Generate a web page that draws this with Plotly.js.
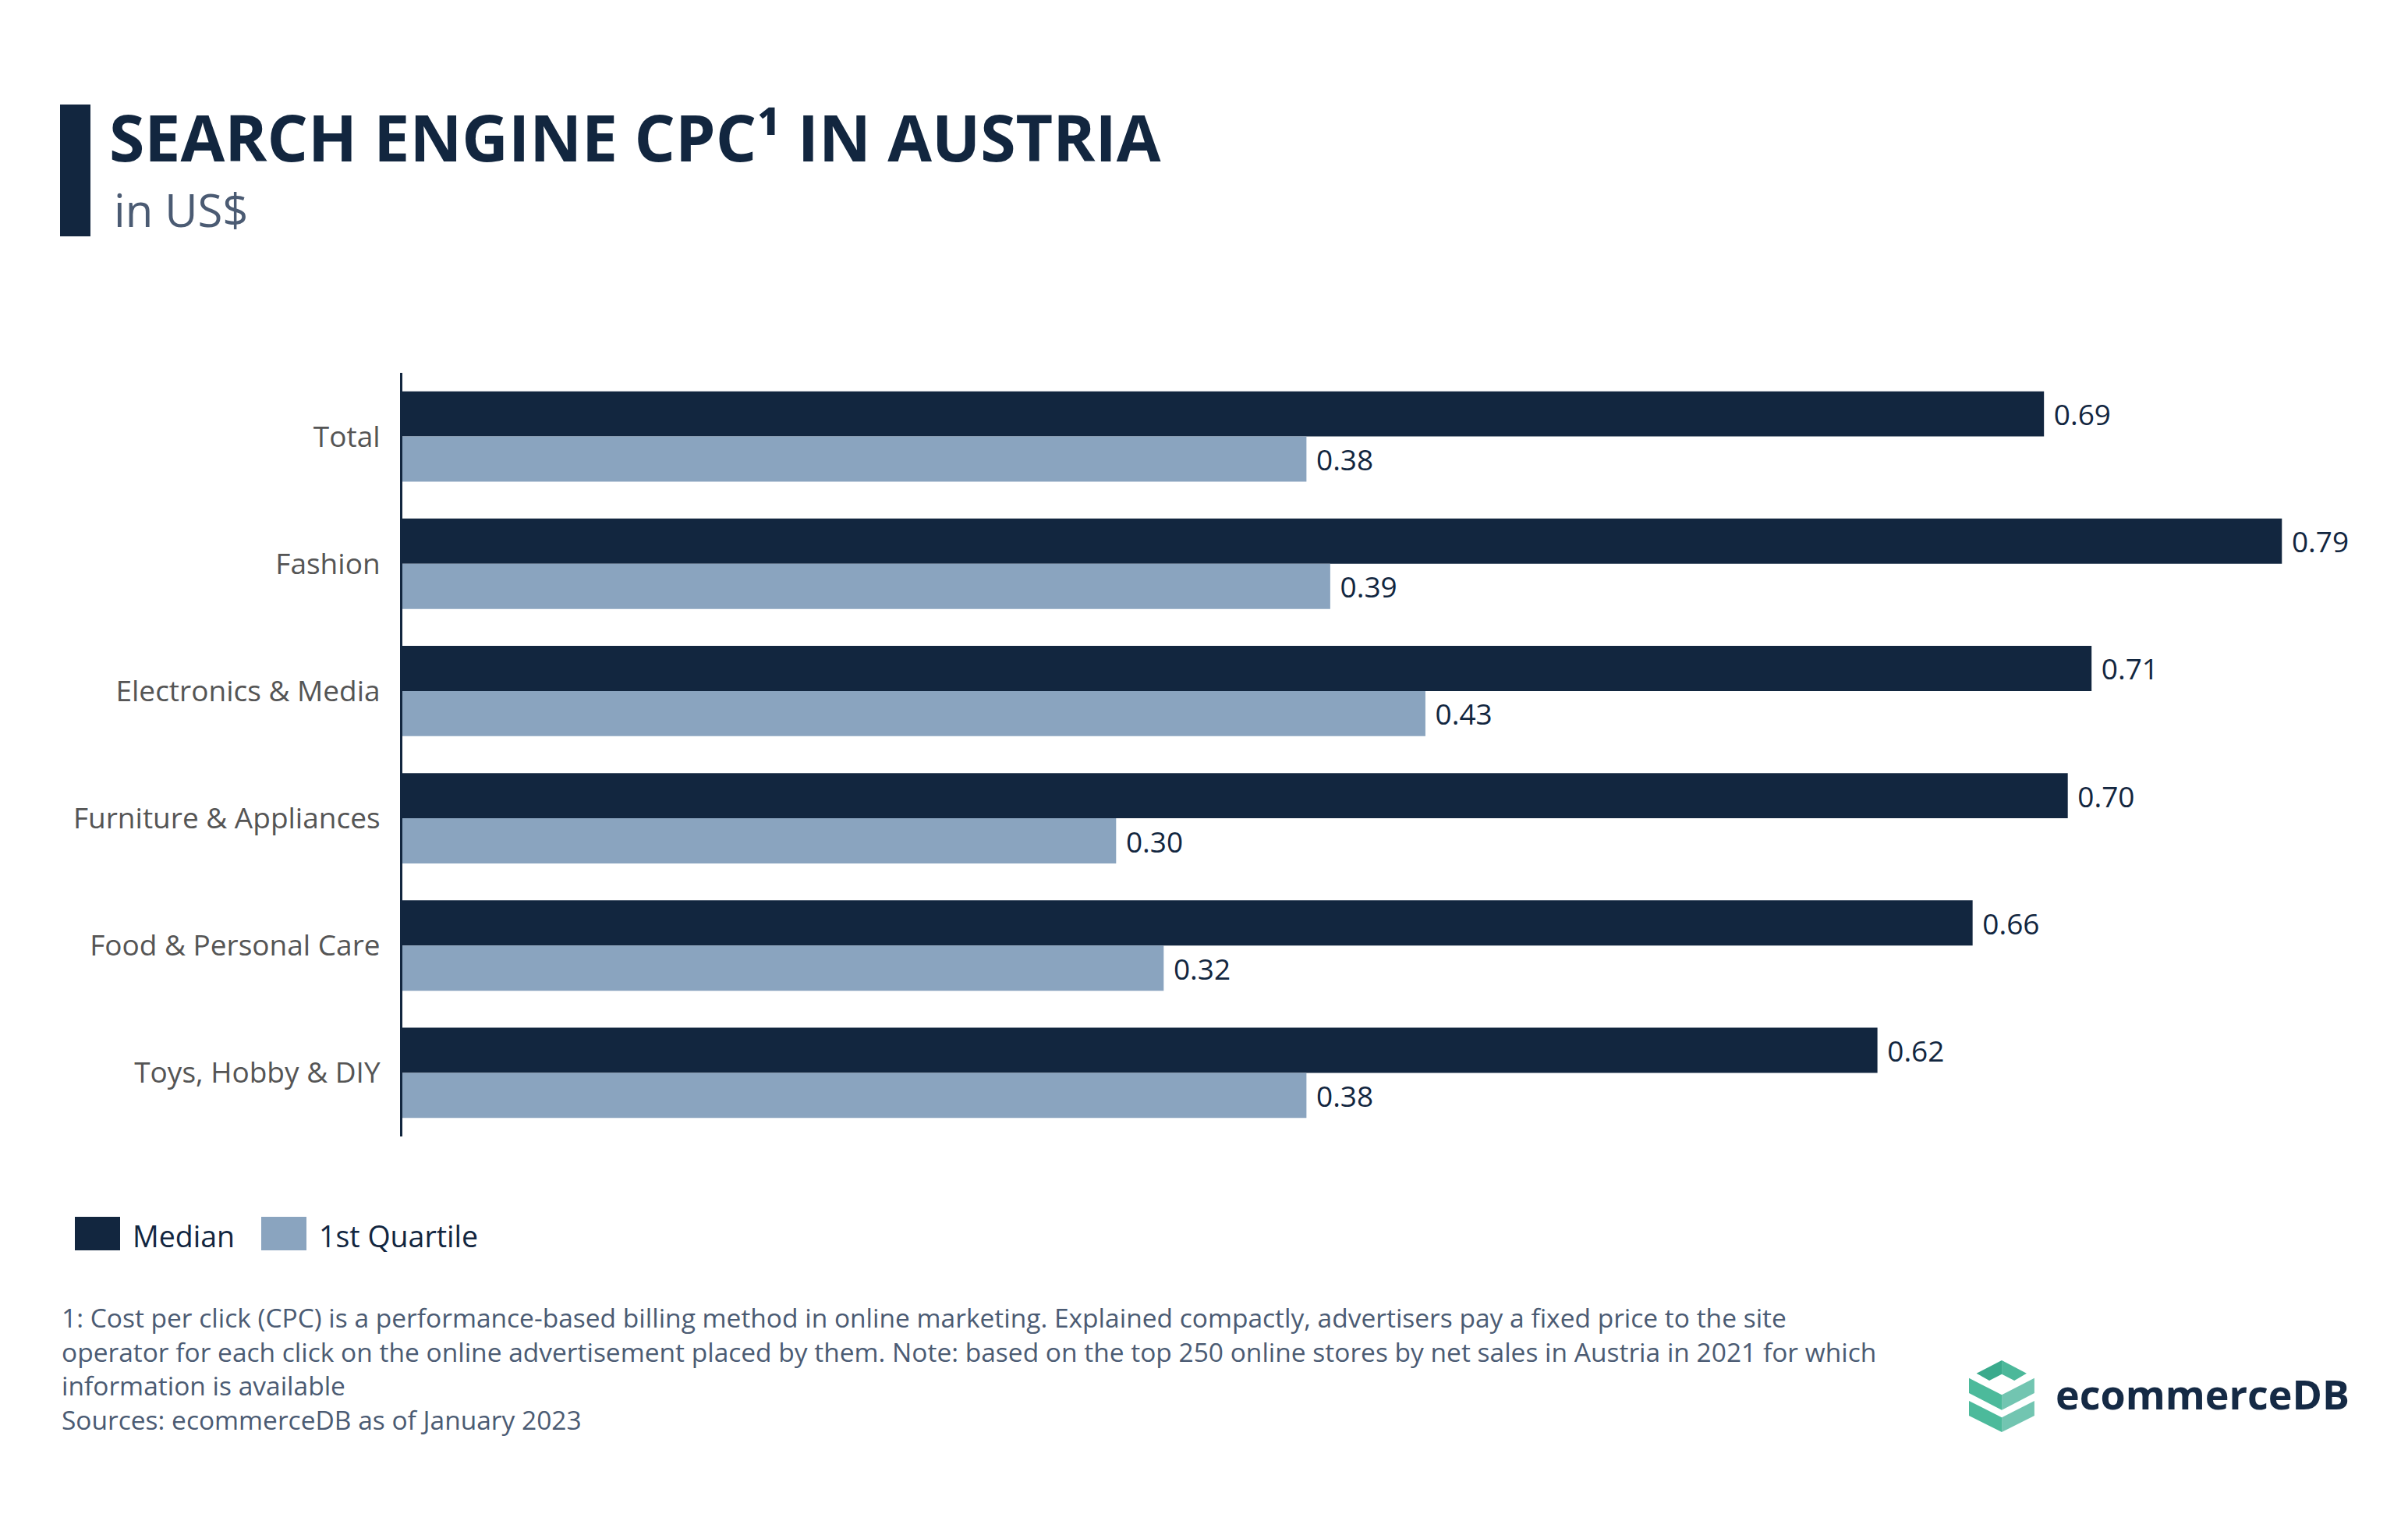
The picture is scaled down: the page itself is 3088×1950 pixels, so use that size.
<!DOCTYPE html>
<html><head><meta charset="utf-8">
<script src="https://cdn.plot.ly/plotly-3.0.1.min.js"></script>
<style>html,body{margin:0;padding:0;background:#fff}#chart{width:3088px;height:1950px}</style>
</head><body><div id="chart"></div>
<script>
const categories = ["Total", "Fashion", "Electronics & Media", "Furniture & Appliances", "Food & Personal Care", "Toys, Hobby & DIY"];
const median = [0.69, 0.79, 0.71, 0.70, 0.66, 0.62];
const firstQuartile = [0.38, 0.39, 0.43, 0.30, 0.32, 0.38];
const seriesNames = ["Median", "1st Quartile"];
const seriesColors = ["#12263F", "#8AA4BF"];
const footnoteLines = [
  "1: Cost per click (CPC) is a performance-based billing method in online marketing. Explained compactly, advertisers pay a fixed price to the site",
  "operator for each click on the online advertisement placed by them. Note: based on the top 250 online stores by net sales in Austria in 2021 for which",
  "information is available",
  "Sources: ecommerceDB as of January 2023"
];

const W = 3088, H = 1950, M = {l: 516, r: 88, t: 478, b: 493};
const PW = W - M.l - M.r, PH = H - M.t - M.b;
const px = x => (x - M.l) / PW;
const py = y => (H - M.b - y) / PH;
const FONT = "Open Sans, Noto Sans, sans-serif";
const NAVY = "#12263F";

const seriesValues = [median, firstQuartile];
const traces = seriesValues.map((vals, i) => ({
  type: "bar", orientation: "h",
  y: categories, x: vals, name: seriesNames[i],
  marker: {color: seriesColors[i], line: {width: 0}},
  texttemplate: "\u00a0%{x:.2f}", textposition: "outside",
  textfont: {family: FONT, size: 37, color: NAVY},
  constraintext: "none", cliponaxis: false,
  hoverinfo: "skip", showlegend: false
}));

function pathFrom(pts) {
  return "M" + pts.map(p => px(p[0]).toFixed(5) + "," + py(p[1]).toFixed(5)).join(" L") + " Z";
}
const logoPieces = [
  [[[2534.6,1760.7],[2567.1,1744],[2567.1,1761.7],[2551.1,1770]], "#3aaa8c"],
  [[[2567.1,1744],[2598.9,1760.7],[2583.2,1770],[2567.1,1761.7]], "#4cb89a"],
  [[[2525,1766.7],[2567.1,1788.3],[2567.1,1807.7],[2525,1786]], "#4cba9b"],
  [[[2567.1,1788.3],[2608.9,1766.7],[2608.9,1786],[2567.1,1807.7]], "#72c5b1"],
  [[[2525,1796],[2567.1,1817.3],[2567.1,1836],[2525,1815]], "#4cba9b"],
  [[[2567.1,1817.3],[2608.9,1796],[2608.9,1815],[2567.1,1836]], "#72c5b1"]
];

const shapes = [
  {type: "rect", xref: "paper", yref: "paper", x0: px(77), x1: px(116), y0: py(303), y1: py(134),
   fillcolor: NAVY, line: {width: 0}}
];
logoPieces.forEach(([pts, c]) => shapes.push({type: "path", xref: "paper", yref: "paper",
  path: pathFrom(pts), fillcolor: c, line: {width: 0}}));

const legendX = [96, 335];
seriesNames.forEach((n, i) => {
  shapes.push({type: "rect", xref: "paper", yref: "paper",
    x0: px(legendX[i]), x1: px(legendX[i] + 58), y0: py(1603), y1: py(1560),
    fillcolor: seriesColors[i], line: {width: 0}});
});

const annotations = [
  {text: "in US$", xref: "paper", yref: "paper", x: px(144), y: py(268), xanchor: "left", yanchor: "middle",
   showarrow: false, font: {family: FONT, size: 58, color: "#4b5b73"}},
  {text: "<b>ecommerceDB</b>", xref: "paper", yref: "paper", x: px(2634), y: py(1786), xanchor: "left", yanchor: "middle",
   showarrow: false, font: {family: FONT, size: 52, color: "#152a45"}},
  {text: footnoteLines.join("<br>"), xref: "paper", yref: "paper", x: px(77), y: py(1754.5),
    xanchor: "left", yanchor: "middle", align: "left", showarrow: false,
    font: {family: FONT, size: 33.5, color: "#4b5b73"}}
];
seriesNames.forEach((n, i) => {
  annotations.push({text: n, xref: "paper", yref: "paper", x: px(legendX[i] + 72), y: py(1584),
    xanchor: "left", yanchor: "middle", showarrow: false, font: {family: FONT, size: 37.5, color: NAVY}});
});

const layout = {
  width: W, height: H, margin: M,
  paper_bgcolor: "#ffffff", plot_bgcolor: "#ffffff",
  font: {family: FONT},
  title: {text: "SEARCH ENGINE CPC\u00b9 IN AUSTRIA", xref: "container", yref: "container",
    x: 140 / W, xanchor: "left", y: 1 - 149 / H, yanchor: "top",
    font: {family: FONT, size: 82.3, weight: 700, color: NAVY}},
  barmode: "group", bargap: 0.29, bargroupgap: 0,
  xaxis: {range: [0, PW / 3051], visible: false, fixedrange: true},
  yaxis: {type: "category", categoryorder: "array", categoryarray: categories, autorange: "reversed",
    showline: true, linecolor: NAVY, linewidth: 3, showgrid: false, zeroline: false,
    ticks: "outside", ticklen: 18, tickcolor: "rgba(0,0,0,0)",
    tickfont: {family: FONT, size: 37, color: "#555555"}, fixedrange: true},
  showlegend: false,
  shapes: shapes, annotations: annotations
};

Plotly.newPlot("chart", traces, layout, {displayModeBar: false, staticPlot: true});
</script>
</body></html>
